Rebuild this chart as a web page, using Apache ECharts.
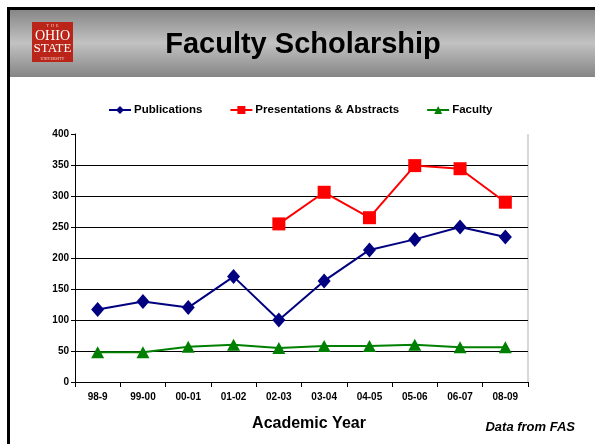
<!DOCTYPE html>
<html>
<head>
<meta charset="utf-8">
<script src="https://cdn.jsdelivr.net/npm/echarts@6/dist/echarts.min.js"></script>
<style>
html,body{margin:0;padding:0;background:#fff;}
#chart{width:595px;height:444px;}
</style>
</head>
<body>
<div id="chart"></div>
<script>
var categories = ['98-9','99-00','00-01','01-02','02-03','03-04','04-05','05-06','06-07','08-09'];
var publications = [117,130,120,170,100,163,213,230,250,234];
var presentations = [null,null,null,null,255,306,265,349,344,290];
var faculty = [48,48,57,60,55,58,58,60,56,56];
var yTicks = [0,50,100,150,200,250,300,350,400];

var chart = echarts.init(document.getElementById('chart'), null, {renderer:'canvas'});
var font = 'Arial, "Liberation Sans", sans-serif';
var option = {
  backgroundColor:'#fff',
  animation:false,
  graphic:[
    {type:'rect', shape:{x:9,y:9,width:586,height:68}, silent:true,
     style:{fill:new echarts.graphic.LinearGradient(0,0,0,1,[
       {offset:0,color:'#858585'},{offset:0.5,color:'#c2c2c2'},{offset:1,color:'#858585'}])}},
    {type:'rect', shape:{x:7,y:7,width:588,height:3}, silent:true, style:{fill:'#000'}},
    {type:'rect', shape:{x:7,y:7,width:3,height:437}, silent:true, style:{fill:'#000'}},
    {type:'rect', shape:{x:32,y:22,width:41,height:40}, silent:true, style:{fill:'#bb2418'}},
    {type:'text', x:52.5, y:26, silent:true, style:{text:'T  H  E', fill:'#f4d0c8', font:'4px "Liberation Serif", serif', align:'center', verticalAlign:'middle'}},
    {type:'text', x:52.5, y:36, silent:true, style:{text:'OHIO', fill:'#fff', font:'14px "Liberation Serif", serif', align:'center', verticalAlign:'middle'}},
    {type:'text', x:52.5, y:49, silent:true, style:{text:'STATE', fill:'#fff', font:'13px "Liberation Serif", serif', align:'center', verticalAlign:'middle'}},
    {type:'text', x:52.5, y:58.5, silent:true, style:{text:'UNIVERSITY', fill:'#f4d0c8', font:'4px "Liberation Serif", serif', align:'center', verticalAlign:'middle'}},
    {type:'text', x:303, y:45, silent:true, style:{text:'Faculty Scholarship', fill:'#000', font:'bold 29px '+font, align:'center', verticalAlign:'middle'}},
    {type:'line', shape:{x1:528,y1:134,x2:528,y2:382}, silent:true, style:{stroke:'#b0b0b0', lineWidth:1}},
    {type:'text', x:309, y:424, silent:true, style:{text:'Academic Year', fill:'#000', font:'bold 16px '+font, align:'center', verticalAlign:'middle'}},
    {type:'text', x:575, y:427, silent:true, style:{text:'Data from FAS', fill:'#000', font:'italic bold 13px '+font, align:'right', verticalAlign:'middle'}}
  ],
  legend:{
    top:99, left:103, itemGap:27, itemWidth:22, itemHeight:10,
    textStyle:{fontFamily:font, fontWeight:'bold', fontSize:11.5, color:'#000', padding:[0,0,0,-2]},
    data:['Publications','Presentations & Abstracts','Faculty']
  },
  grid:{left:75, right:67, top:134, bottom:62, containLabel:false},
  xAxis:{
    type:'category', data:categories, boundaryGap:true,
    axisLine:{lineStyle:{color:'#000', width:1}},
    axisTick:{show:true, alignWithLabel:false, length:5, lineStyle:{color:'#000'}},
    axisLabel:{fontFamily:font, fontWeight:'bold', fontSize:10, color:'#000', margin:10, interval:0},
    splitLine:{show:false}
  },
  yAxis:{
    type:'value', min:0, max:400, interval:50,
    axisLine:{show:true, lineStyle:{color:'#000', width:1}},
    axisTick:{show:true, length:4, lineStyle:{color:'#000'}},
    axisLabel:{fontFamily:font, fontWeight:'bold', fontSize:10, color:'#000', margin:6,
      formatter:function(v){ return yTicks.indexOf(v)>=0 ? String(v) : ''; }},
    splitLine:{show:true, lineStyle:{color:['#000','#000','#000','#000','#000','#000','#000','#000','rgba(0,0,0,0)'], width:1}}
  },
  series:[
    {name:'Publications', type:'line', data:publications, symbol:'diamond', symbolSize:[13,15],
     itemStyle:{color:'#000080'}, lineStyle:{color:'#000080', width:2}, z:3},
    {name:'Presentations & Abstracts', type:'line', data:presentations, symbol:'rect', symbolSize:13,
     itemStyle:{color:'#ff0000'}, lineStyle:{color:'#ff0000', width:2}, connectNulls:false, z:4},
    {name:'Faculty', type:'line', data:faculty, symbol:'triangle', symbolSize:[13,12],
     itemStyle:{color:'#008000'}, lineStyle:{color:'#008000', width:2}, z:2}
  ]
};
chart.setOption(option);
</script>
</body>
</html>
